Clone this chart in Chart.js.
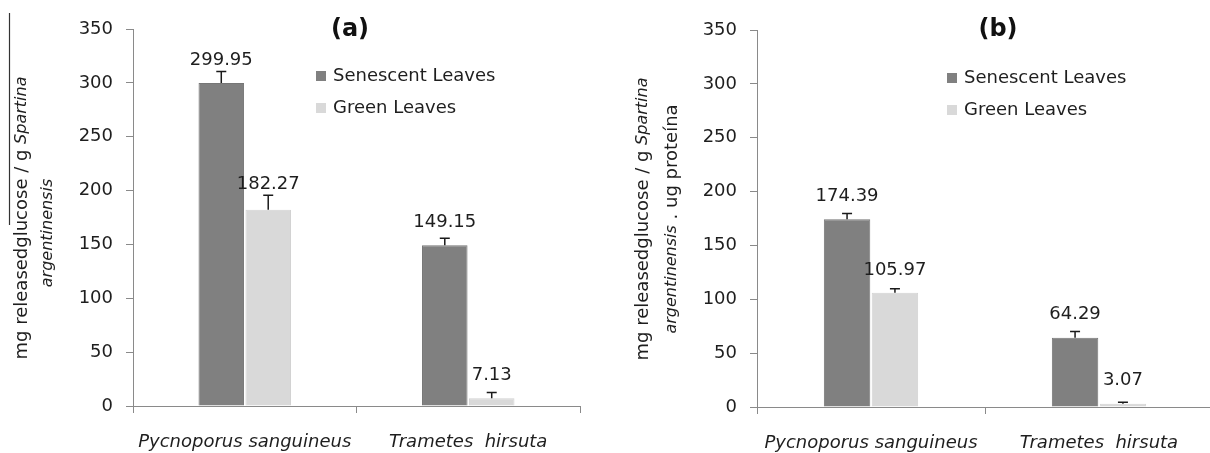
<!DOCTYPE html>
<html>
<head>
<meta charset="utf-8">
<script src="https://cdn.jsdelivr.net/npm/chart.js@4.4.1/dist/chart.umd.min.js"></script>
<style>
  html, body { margin: 0; padding: 0; background: #fff; overflow: hidden; width: 1210px; height: 453px; position: relative; }
  .panel { position: absolute; top: 0; height: 453px; }
  #wrapA { left: 0; width: 600px; }
  #wrapB { left: 605px; width: 615px; }
</style>
</head>
<body>
<div class="panel" id="wrapA"><canvas id="chartA"></canvas></div>
<div class="panel" id="wrapB"><canvas id="chartB"></canvas></div>
<script>
// Fungal strains on the x axis
const categories = ['Pycnoporus sanguineus', 'Trametes  hirsuta'];
const seriesNames = ['Senescent Leaves', 'Green Leaves'];
const yTickValues = [0, 50, 100, 150, 200, 250, 300, 350];

// (a) mg released glucose per g of Spartina argentinensis
const senescentA = [299.95, 149.15];
const greenA = [182.27, 7.13];
const senescentErrA = [10.5, 6.7];
const greenErrA = [13.5, 5.3];

// (b) same, normalised by µg of protein
const senescentB = [174.39, 64.29];
const greenB = [105.97, 3.07];
const senescentErrB = [5.2, 5.8];
const greenErrB = [3.8, 1.4];

const FONT = '"DejaVu Sans", sans-serif';
const TEXT = '#1e1e1e';
const AXIS = '#8a8a8a';
const COLORS = ['#808080', '#d9d9d9'];
const BORDERS = ['#767676', '#d2d2d2'];

function drawRuns(ctx, runs, cx, cy) {
  ctx.save();
  ctx.translate(cx, cy);
  ctx.rotate(-Math.PI / 2);
  ctx.textBaseline = 'middle';
  ctx.textAlign = 'left';
  ctx.fillStyle = TEXT;
  const fonts = runs.map(r => r[1] ? 'italic 16px ' + FONT : '18px ' + FONT);
  const widths = runs.map((r, i) => { ctx.font = fonts[i]; return ctx.measureText(r[0]).width; });
  let x = -widths.reduce((a, b) => a + b, 0) / 2;
  runs.forEach((r, i) => { ctx.font = fonts[i]; ctx.fillText(r[0], x, 0); x += widths[i]; });
  ctx.restore();
}

// Error bars, value labels, legend, panel letter and axis title
const panelDecor = {
  id: 'panelDecor',
  afterDatasetsDraw(chart, args, opts) {
    const ctx = chart.ctx;
    const y = chart.scales.y;
    ctx.save();
    chart.data.datasets.forEach((ds, i) => {
      const meta = chart.getDatasetMeta(i);
      meta.data.forEach((bar, j) => {
        const v = ds.data[j];
        const capY = y.getPixelForValue(v + ds.errors[j]);
        ctx.strokeStyle = '#1a1a1a';
        ctx.lineWidth = 1.5;
        ctx.beginPath();
        ctx.moveTo(bar.x, bar.y);
        ctx.lineTo(bar.x, capY);
        ctx.moveTo(bar.x - 5, capY);
        ctx.lineTo(bar.x + 5, capY);
        ctx.stroke();
        ctx.fillStyle = TEXT;
        ctx.font = '18px ' + FONT;
        ctx.textAlign = 'center';
        ctx.textBaseline = 'middle';
        // value sits above the bar, kept clear of the error cap
        ctx.fillText(v.toFixed(2), bar.x, Math.min(bar.y - 23, capY - 11));
      });
    });

    // legend
    chart.data.datasets.forEach((ds, i) => {
      const ly = opts.legendY + i * 32;
      ctx.fillStyle = ds.backgroundColor;
      ctx.fillRect(opts.legendX, ly - 5, 10, 10);
      ctx.fillStyle = TEXT;
      ctx.font = '18px ' + FONT;
      ctx.textAlign = 'left';
      ctx.textBaseline = 'middle';
      ctx.fillText(ds.label, opts.legendX + 17, ly);
    });

    // panel letter
    ctx.fillStyle = '#111';
    ctx.font = 'bold 24px ' + FONT;
    ctx.textAlign = 'center';
    ctx.textBaseline = 'middle';
    ctx.fillText(opts.letter, opts.letterX, 30);

    // y axis title (two lines, mixed upright / italic)
    opts.yTitle.forEach(line => drawRuns(ctx, line.runs, line.x, line.y));
    if (opts.overline) {
      ctx.strokeStyle = '#333';
      ctx.lineWidth = 1.2;
      ctx.beginPath();
      ctx.moveTo(opts.overline[0], opts.overline[1]);
      ctx.lineTo(opts.overline[0], opts.overline[2]);
      ctx.stroke();
    }
    ctx.restore();
  }
};

function makeChart(id, sen, grn, senErr, grnErr, axisW, pad, decor) {
  return new Chart(document.getElementById(id), {
    type: 'bar',
    data: {
      labels: categories,
      datasets: [
        { label: seriesNames[0], data: sen, errors: senErr, backgroundColor: COLORS[0], borderColor: BORDERS[0], borderWidth: 1 },
        { label: seriesNames[1], data: grn, errors: grnErr, backgroundColor: COLORS[1], borderColor: BORDERS[1], borderWidth: 1 }
      ]
    },
    options: {
      responsive: true,
      maintainAspectRatio: false,
      animation: false,
      events: [],
      layout: { padding: pad },
      datasets: { bar: { categoryPercentage: 0.42, barPercentage: 0.97 } },
      plugins: { legend: { display: false }, tooltip: { enabled: false }, panelDecor: decor },
      scales: {
        x: {
          afterFit: s => { s.height = 453 - pad.bottomEdge; },
          grid: { display: true, drawOnChartArea: false, drawTicks: true, tickLength: 7, color: AXIS, offset: true },
          border: { color: AXIS, width: 1 },
          ticks: { color: TEXT, padding: 19, font: { family: FONT, size: 18, style: 'italic' }, maxRotation: 0, autoSkip: false }
        },
        y: {
          min: 0, max: 350,
          afterFit: s => { s.width = axisW; },
          afterBuildTicks: s => { s.ticks = yTickValues.map(v => ({ value: v })); },
          grid: { display: true, drawOnChartArea: false, drawTicks: true, tickLength: 7, color: AXIS },
          border: { color: AXIS, width: 1 },
          ticks: { color: TEXT, padding: 13, font: { family: FONT, size: 18 } }
        }
      }
    },
    plugins: [panelDecor]
  });
}

makeChart('chartA', senescentA, greenA, senescentErrA, greenErrA, 133,
  { top: 29, right: 20, bottom: 0, left: 0, bottomEdge: 406 },
  {
    letter: '(a)', letterX: 350, legendX: 316, legendY: 76,
    yTitle: [
      { runs: [['mg releasedglucose / g ', false], ['Spartina', true]], x: 22, y: 218 },
      { runs: [['argentinensis', true]], x: 48, y: 233 }
    ],
    overline: [9.5, 13, 225]
  });

makeChart('chartB', senescentB, greenB, senescentErrB, greenErrB, 152,
  { top: 30, right: 7, bottom: 0, left: 0, bottomEdge: 407 },
  {
    letter: '(b)', letterX: 393, legendX: 342, legendY: 78,
    yTitle: [
      { runs: [['mg releasedglucose / g ', false], ['Spartina', true]], x: 38, y: 219 },
      { runs: [['argentinensis', true], [' . ug proteína', false]], x: 67, y: 219 }
    ]
  });
</script>
</body>
</html>
